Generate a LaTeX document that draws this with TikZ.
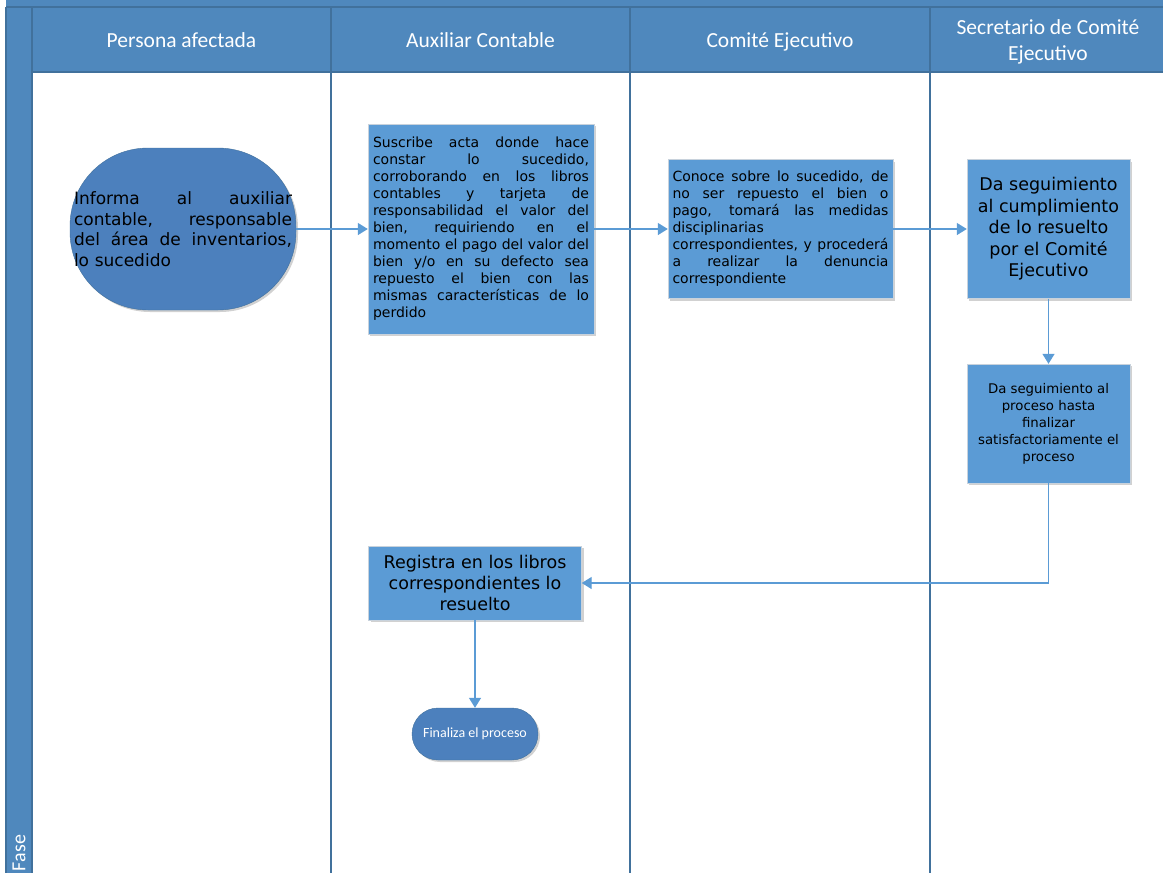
\documentclass[tikz,border=0pt]{standalone}
\usepackage{fontspec}
\setmainfont{DejaVu Sans}
\newfontfamily\calibri{Carlito}
\usetikzlibrary{arrows.meta,shadows}

\definecolor{lanehead}{RGB}{79,136,189}
\definecolor{laneline}{RGB}{65,113,156}
\definecolor{boxfill}{RGB}{91,155,213}
\definecolor{boxline}{RGB}{200,210,220}
\definecolor{termfill}{RGB}{76,128,189}
\definecolor{flowline}{RGB}{91,155,213}

% one justified line of a box, spaces stretched to the given width
\newcommand{\jline}[2][216pt]{\leavevmode{\spaceskip=.32em plus 1fil\relax\hbox to #1{#2}}\\}

\begin{document}
\begin{tikzpicture}[x=1pt,y=-1pt,
  lane/.style={draw=laneline,line width=1.6pt},
  headtext/.style={text=white,font=\calibri\fontsize{21.5}{26}\selectfont,align=center},
  task/.style={draw=boxline,fill=boxfill,inner sep=0pt,
    drop shadow={shadow xshift=2pt,shadow yshift=-2pt,fill=black,opacity=0.18}},
  term/.style={draw=laneline,fill=termfill,inner sep=0pt,
    drop shadow={shadow xshift=2pt,shadow yshift=-2pt,fill=black,opacity=0.18}},
  flow/.style={draw=flowline,line width=1.4pt,-{Triangle[length=10pt,width=12pt]}}]
\useasboundingbox (0,0) rectangle (1163,873);

% pool frame and header row
\fill[lanehead] (6,0) rectangle (1163,72);
\fill[lanehead] (6,0) rectangle (32,873);
\draw[lane] (6,7) -- (1163,7);
\draw[lane] (32,72) -- (1163,72);
\draw[lane] (6,7) -- (6,873);
\draw[lane] (32,7) -- (32,873);
\foreach \x in {331,630,930}
  \draw[lane] (\x,7) -- (\x,873);

\node[headtext] (h1) at (181.5,40) {Persona afectada};
\node[headtext] (h2) at (480.5,40) {Auxiliar Contable};
\node[headtext] (h3) at (780,41.5) {Comité Ejecutivo};
\node[headtext] (h4) at (1048,42) {Secretario de Comité\\Ejecutivo};
\node[headtext,font=\calibri\fontsize{20}{24}\selectfont,rotate=90] (fase) at (19,853) {Fase};

% steps
\node[term,rounded corners=78pt,minimum width=226pt,minimum height=162pt,
  text width=218pt,align=left,font=\fontsize{17}{20.5}\selectfont] (informa) at (183,229) {%
  \jline[218pt]{Informa al auxiliar}
  \jline[218pt]{contable, responsable}
  \jline[218pt]{del área de inventarios,}
  lo sucedido};

\node[task,minimum width=226pt,minimum height=210pt,text width=216pt,align=left,
  font=\fontsize{14}{17}\selectfont] (acta) at (481,229) {%
  \jline{Suscribe acta donde hace}
  \jline{constar lo sucedido,}
  \jline{corroborando en los libros}
  \jline{contables y tarjeta de}
  \jline{responsabilidad el valor del}
  \jline{bien, requiriendo en el}
  \jline{momento el pago del valor del}
  \jline{bien y/o en su defecto sea}
  \jline{repuesto el bien con las}
  \jline{mismas características de lo}
  perdido};

\node[task,minimum width=225pt,minimum height=139pt,text width=216pt,align=left,
  font=\fontsize{14}{17}\selectfont] (conoce) at (780.5,229) {%
  \jline{Conoce sobre lo sucedido, de}
  \jline{no ser repuesto el bien o}
  \jline{pago, tomará las medidas}
  disciplinarias\\
  \jline{correspondientes, y procederá}
  \jline{a realizar la denuncia}
  correspondiente};

\node[task,minimum width=163pt,minimum height=139pt,align=center,
  font=\fontsize{17.5}{21.5}\selectfont] (cumple) at (1048.5,229)
  {Da seguimiento\\al cumplimiento\\de lo resuelto\\por el Comité\\Ejecutivo};

\node[task,minimum width=163pt,minimum height=119pt,align=center,
  font=\fontsize{13.3}{17}\selectfont] (sigue) at (1048.5,423.5)
  {Da seguimiento al\\proceso hasta\\finalizar\\satisfactoriamente el\\proceso};

\node[task,minimum width=213pt,minimum height=74pt,align=center,
  font=\fontsize{17.5}{21}\selectfont] (registra) at (475,583)
  {Registra en los libros\\correspondientes lo\\resuelto};

\node[term,rounded corners=26pt,minimum width=126pt,minimum height=52pt,text=white,
  font=\calibri\fontsize{14}{16}\selectfont] (fin) at (475,734) {Finaliza el proceso};

% connectors
\draw[flow] (informa) -- (acta);
\draw[flow] (acta) -- (conoce);
\draw[flow] (conoce) -- (cumple);
\draw[flow] (cumple) -- (sigue);
\draw[flow] (sigue.south) |- (registra.east);
\draw[flow] (registra) -- (fin);
\end{tikzpicture}
\end{document}
